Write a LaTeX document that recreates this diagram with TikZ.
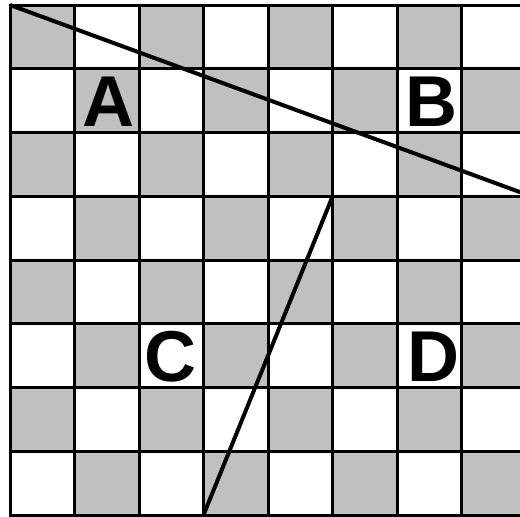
\documentclass[tikz,border=0pt]{standalone}
\usepackage{fontspec}
\setmainfont{Liberation Sans}
\definecolor{cellgrey}{RGB}{192,192,192}
\begin{document}
\begin{tikzpicture}[x=1pt,y=-1pt,
  gridline/.style={line width=3pt, line cap=rect},
  cutline/.style={line width=4pt},
  letter/.style={font=\fontsize{72}{72}\selectfont\bfseries, inner sep=0pt}]
\useasboundingbox (0,0) rectangle (520,517);
\clip (0,0) rectangle (520,517);
\fill[white] (0,0) rectangle (520,517);
\foreach \r in {0,...,7} {
  \foreach \c in {0,...,7} {
    \pgfmathparse{int(mod(\r+\c,2))}
    \ifnum\pgfmathresult=0
      \fill[cellgrey] ({10+64.5*\c},{5+63.75*\r}) rectangle ++(64.5,63.75);
    \fi
  }
}
\foreach \c in {0,...,8} \draw[gridline] ({10+64.5*\c},5) -- ({10+64.5*\c},515);
\foreach \r in {0,...,8} \draw[gridline] (10,{5+63.75*\r}) -- (526,{5+63.75*\r});
\coordinate (p1) at (10,5);
\coordinate (p2) at (521,192.5);
\coordinate (q1) at (332.5,196.5);
\coordinate (q2) at (203.5,515);
\draw[cutline] (p1) -- (p2);
\draw[cutline] (q1) -- (q2);
\node[letter] (A) at (108.5,101.5) {A};
\node[letter] (B) at (431.5,101.5) {B};
\node[letter] (C) at (170,357) {C};
\node[letter] (D) at (433,357) {D};
\end{tikzpicture}
\end{document}
